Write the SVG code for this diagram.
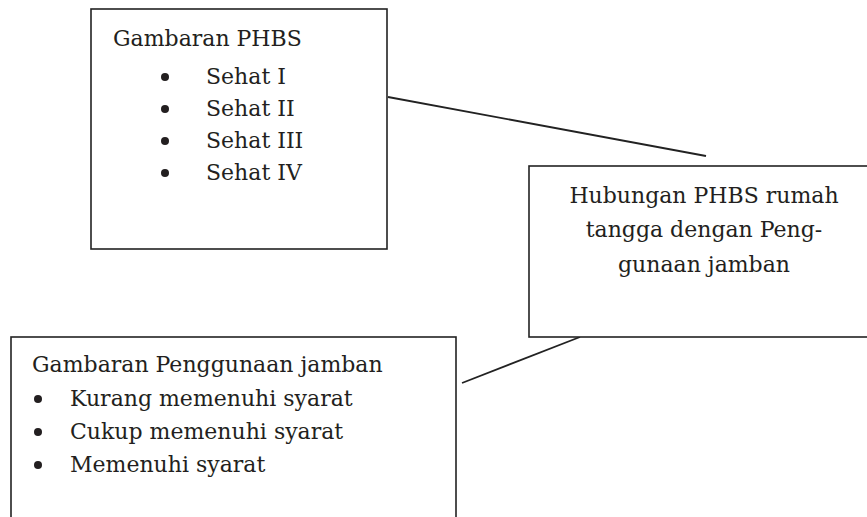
<svg xmlns="http://www.w3.org/2000/svg" width="867" height="517" viewBox="0 0 867 517">
<style>
.box{fill:#fff;stroke:#222;stroke-width:1.6}
.ln{stroke:#222;stroke-width:1.8;fill:none}
.t{font-family:"DejaVu Serif","Liberation Serif",serif;font-size:22px;fill:#231f20}
.c{text-anchor:middle}
.b{fill:#231f20}
</style>
<rect width="867" height="517" fill="#fff"/>
<g id="connectors">
<line class="ln" x1="388" y1="97" x2="706" y2="156"/>
<line class="ln" x1="462" y1="383" x2="580" y2="337"/>
</g>
<g id="node-phbs">
<rect class="box" x="91" y="9" width="296" height="240"/>
<text class="t" x="113" y="46">Gambaran PHBS</text>
<circle class="b" cx="165" cy="77" r="4"/>
<circle class="b" cx="165" cy="109" r="4"/>
<circle class="b" cx="165" cy="141" r="4"/>
<circle class="b" cx="165" cy="173" r="4"/>
<text class="t" x="206" y="84">Sehat I</text>
<text class="t" x="206" y="116">Sehat II</text>
<text class="t" x="206" y="148">Sehat III</text>
<text class="t" x="206" y="180">Sehat IV</text>
</g>
<g id="node-hubungan">
<rect class="box" x="529" y="166" width="350" height="171"/>
<text class="t c" x="704" y="203">Hubungan PHBS rumah</text>
<text class="t c" x="704" y="237">tangga dengan Peng-</text>
<text class="t c" x="704" y="272">gunaan jamban</text>
</g>
<g id="node-jamban">
<rect class="box" x="11" y="337" width="445" height="200"/>
<text class="t" x="32" y="372">Gambaran Penggunaan jamban</text>
<circle class="b" cx="38" cy="399" r="4"/>
<circle class="b" cx="38" cy="432" r="4"/>
<circle class="b" cx="38" cy="465" r="4"/>
<text class="t" x="70" y="406">Kurang memenuhi syarat</text>
<text class="t" x="70" y="439">Cukup memenuhi syarat</text>
<text class="t" x="70" y="472">Memenuhi syarat</text>
</g>
</svg>
